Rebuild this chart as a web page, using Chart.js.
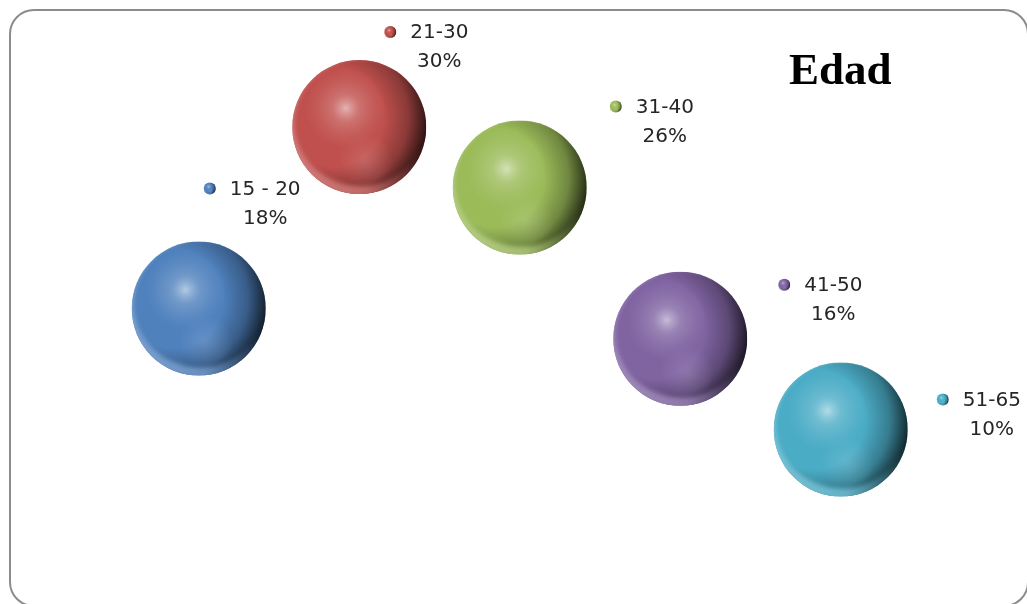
<!DOCTYPE html>
<html>
<head>
<meta charset="utf-8">
<script src="https://cdn.jsdelivr.net/npm/chart.js@4/dist/chart.umd.min.js"></script>
<style>
  html, body { margin: 0; padding: 0; background: #ffffff; }
  #wrap { position: relative; width: 1027px; height: 604px; }
  canvas { display: block; }
</style>
</head>
<body>
<div id="wrap"><canvas id="chart" width="1027" height="604"></canvas></div>
<script>
// Age groups and their share of respondents (%)
const ageGroups = ['15 - 20', '21-30', '31-40', '41-50', '51-65'];
const shares = [18, 30, 26, 16, 10];
const chartTitle = 'Edad';

// Sphere base colours, one per age group
const baseColors = ['#4f81bd', '#c0504d', '#9bbb59', '#8064a2', '#4bacc6'];
// Where each data label's key dot sits, relative to its sphere centre
const labelOffsets = [[11, -120], [31, -95], [96, -81], [104, -54], [102, -30]];

function hexToRgb(h) {
  const n = parseInt(h.slice(1), 16);
  return [(n >> 16) & 255, (n >> 8) & 255, n & 255];
}
function mix(rgb, target, t) {
  return rgb.map((c, i) => Math.round(c + (target[i] - c) * t));
}
function rgbStr(c, a) {
  return a === undefined ? `rgb(${c[0]},${c[1]},${c[2]})` : `rgba(${c[0]},${c[1]},${c[2]},${a})`;
}

// Paints a shaded sphere: highlight upper-left, dark rim right, reflected light at the bottom
function paintSphere(ctx, cx, cy, r, hex) {
  const base = hexToRgb(hex);
  const white = [255, 255, 255];
  const light = mix(base, white, 0.35);
  ctx.save();
  ctx.beginPath();
  ctx.arc(cx, cy, r, 0, Math.PI * 2);
  ctx.closePath();
  ctx.clip();

  ctx.fillStyle = rgbStr(base);
  ctx.fillRect(cx - r, cy - r, 2 * r, 2 * r);

  // shadow toward the right / lower right
  const sh = ctx.createRadialGradient(cx - 0.38 * r, cy - 0.15 * r, 0, cx - 0.38 * r, cy - 0.15 * r, 1.42 * r);
  sh.addColorStop(0, 'rgba(0,0,0,0)');
  sh.addColorStop(0.52, 'rgba(0,0,0,0)');
  sh.addColorStop(0.78, 'rgba(0,0,0,0.28)');
  sh.addColorStop(0.92, 'rgba(0,0,0,0.6)');
  sh.addColorStop(1, 'rgba(0,0,0,0.8)');
  ctx.fillStyle = sh;
  ctx.fillRect(cx - r, cy - r, 2 * r, 2 * r);

  // soft glow low in the sphere
  const glow = ctx.createRadialGradient(cx + 0.1 * r, cy + 0.5 * r, 0, cx + 0.1 * r, cy + 0.5 * r, 0.4 * r);
  glow.addColorStop(0, rgbStr(light, 0.35));
  glow.addColorStop(1, rgbStr(light, 0));
  ctx.fillStyle = glow;
  ctx.fillRect(cx - r, cy - r, 2 * r, 2 * r);

  // reflected rim along the lower edge
  const rim = ctx.createLinearGradient(cx - r, cy, cx + r, cy);
  rim.addColorStop(0, rgbStr(mix(base, white, 0.25), 0.95));
  rim.addColorStop(0.55, rgbStr(mix(base, white, 0.2), 0.85));
  rim.addColorStop(1, rgbStr(mix(base, white, 0.1), 0.0));
  ctx.save();
  if (r > 20) ctx.filter = 'blur(2px)';
  ctx.fillStyle = rim;
  ctx.beginPath();
  ctx.rect(cx - r - 6, cy - r - 6, 2 * r + 12, 2 * r + 12);
  ctx.ellipse(cx + 0.02 * r, cy - 0.07 * r, 0.99 * r, 0.95 * r, 0, 0, Math.PI * 2);
  ctx.fill('evenodd');
  ctx.restore();

  // specular highlight upper-left
  const hl = ctx.createRadialGradient(cx - 0.2 * r, cy - 0.28 * r, 0, cx - 0.2 * r, cy - 0.28 * r, 0.6 * r);
  hl.addColorStop(0, rgbStr(mix(base, white, 0.6), 0.95));
  hl.addColorStop(0.35, rgbStr(mix(base, white, 0.35), 0.55));
  hl.addColorStop(1, rgbStr(mix(base, white, 0.2), 0));
  ctx.fillStyle = hl;
  ctx.fillRect(cx - r, cy - r, 2 * r, 2 * r);
  ctx.restore();
}

// Frame with rounded corners around the whole chart
const framePlugin = {
  id: 'frame',
  beforeDraw(chart) {
    const ctx = chart.ctx;
    ctx.save();
    ctx.fillStyle = '#ffffff';
    ctx.fillRect(0, 0, chart.width, chart.height);
    ctx.strokeStyle = '#8c8c8c';
    ctx.lineWidth = 2;
    ctx.beginPath();
    ctx.roundRect(10, 10, 1018, 596, 24);
    ctx.stroke();
    ctx.restore();
  }
};

// Paints each bubble as a shaded sphere, then adds title and data labels
const spherePlugin = {
  id: 'spheres',
  afterDatasetsDraw(chart) {
    const ctx = chart.ctx;
    const meta = chart.getDatasetMeta(0);
    meta.data.forEach((el, i) => {
      paintSphere(ctx, el.x, el.y, el.options.radius, baseColors[i]);
    });

    // data labels: key dot, age group, share
    ctx.save();
    ctx.font = '20px "DejaVu Sans", sans-serif';
    ctx.fillStyle = '#262626';
    ctx.textBaseline = 'middle';
    meta.data.forEach((el, i) => {
      const dx = el.x + labelOffsets[i][0];
      const dy = el.y + labelOffsets[i][1];
      paintSphere(ctx, dx, dy, 6, baseColors[i]);
      const name = ageGroups[i];
      const pct = shares[i] + '%';
      const w = ctx.measureText(name).width;
      const left = dx + 20;
      ctx.textAlign = 'left';
      ctx.fillText(name, left, dy + 1);
      ctx.textAlign = 'center';
      ctx.fillText(pct, left + w / 2, dy + 30);
    });
    ctx.restore();

    // chart title
    ctx.save();
    ctx.font = 'bold 45px "Liberation Serif", "Times New Roman", serif';
    ctx.fillStyle = '#000000';
    ctx.textAlign = 'left';
    ctx.textBaseline = 'alphabetic';
    ctx.fillText(chartTitle, 789, 84);
    ctx.restore();
  }
};

new Chart(document.getElementById('chart'), {
  type: 'bubble',
  data: {
    labels: ageGroups,
    datasets: [{
      label: chartTitle,
      data: shares.map((v, i) => ({ x: i + 1, y: v })),
      radius: 67,
      backgroundColor: 'rgba(0,0,0,0)',
      borderColor: 'rgba(0,0,0,0)',
      borderWidth: 0
    }]
  },
  options: {
    responsive: false,
    animation: false,
    events: [],
    layout: { padding: 0 },
    scales: {
      x: { type: 'linear', min: 0.179, max: 5.743, display: false },
      y: { type: 'linear', min: 2.89, max: 33.97, display: false }
    },
    plugins: {
      legend: { display: false },
      title: { display: false },
      tooltip: { enabled: false }
    }
  },
  plugins: [framePlugin, spherePlugin]
});
</script>
</body>
</html>
